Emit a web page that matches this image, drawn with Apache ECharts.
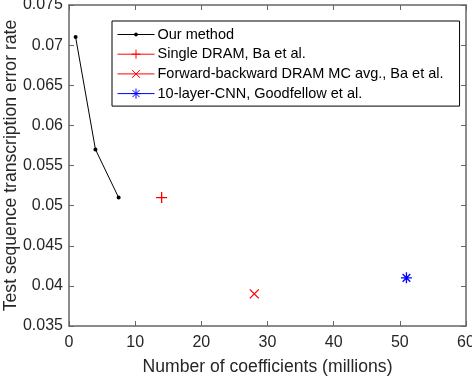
<!DOCTYPE html>
<html>
<head>
<meta charset="utf-8">
<script src="https://cdn.jsdelivr.net/npm/echarts@6/dist/echarts.min.js"></script>
<style>
  html, body { margin: 0; padding: 0; background: #fff; }
  #chart { width: 472px; height: 378px; }
</style>
</head>
<body>
<div id="chart"></div>
<script>
// data
var ourX = [1, 4, 7.5];
var ourY = [0.071, 0.057, 0.051];
var singleDram = [14, 0.051];
var fbDram = [28, 0.039];
var cnn = [51, 0.041];
var seriesNames = [
  'Our method',
  'Single DRAM, Ba et al.',
  'Forward-backward DRAM MC avg., Ba et al.',
  '10-layer-CNN, Goodfellow et al.'
];

var font = 'Liberation Sans, Arial, Helvetica, sans-serif';
var axisCol = '#666';
var textCol = '#262626';

// marker shapes (matlab style)
var plusPath = 'path://M5,0L5,10M0,5L10,5';
var crossPath = 'path://M0,0L10,10M10,0L0,10';
var starPath = 'path://M5,0L5,10M0,5L10,5M1.5,1.5L8.5,8.5M8.5,1.5L1.5,8.5';

// legend icons: line sample + marker, box 37x10
var ext = 'M0,0M37,10M0,5L37,5';
var dotIcon = 'path://' + ext + 'M17,5A1.5,1.5,0,1,1,20,5A1.5,1.5,0,1,1,17,5Z';
var plusIcon = 'path://' + ext + 'M18.5,0.5L18.5,9.5M14,5L23,5';
var crossIcon = 'path://' + ext + 'M14.5,1L22.5,9M22.5,1L14.5,9';
var starIcon = 'path://' + ext + 'M18.5,0L18.5,10M13.5,5L23.5,5M15,1.5L22,8.5M22,1.5L15,8.5';

var chart = echarts.init(document.getElementById('chart'));

function baseAxis(extra) {
  var a = {
    axisLine: { show: true, onZero: false, lineStyle: { color: axisCol, width: 1.5 } },
    axisTick: { show: true, inside: true, length: 5, lineStyle: { color: axisCol, width: 1 } },
    splitLine: { show: false },
    axisLabel: { show: false }
  };
  for (var k in extra) a[k] = extra[k];
  return a;
}

function legendItem(name, icon, col) {
  return { name: name, icon: icon, itemStyle: { color: col, borderColor: col, borderWidth: 1 } };
}

var option = {
  animation: false,
  backgroundColor: '#fff',
  grid: { left: 69, right: 6, top: 5, bottom: 52, containLabel: false, outerBoundsMode: 'none' },
  xAxis: [
    baseAxis({
      type: 'value', min: 0, max: 60, interval: 10, position: 'bottom',
      name: 'Number of coefficients (millions)', nameLocation: 'middle', nameGap: 32,
      nameMoveOverlap: false,
      nameTextStyle: { color: textCol, fontSize: 17.6, fontFamily: font },
      axisLabel: { show: true, color: textCol, fontSize: 16, fontFamily: font, margin: 9 }
    }),
    baseAxis({ type: 'value', min: 0, max: 60, interval: 10, position: 'top' })
  ],
  yAxis: [
    baseAxis({
      type: 'value', min: 0.035, max: 0.075, interval: 0.005, position: 'left',
      name: 'Test sequence transcription error rate', nameLocation: 'middle', nameGap: 49,
      nameMoveOverlap: false,
      nameTextStyle: { color: textCol, fontSize: 17.6, fontFamily: font },
      axisLabel: { show: true, color: textCol, fontSize: 16, fontFamily: font, margin: 6,
        formatter: function (v) { return String(+v.toFixed(3)); } }
    }),
    baseAxis({ type: 'value', min: 0.035, max: 0.075, interval: 0.005, position: 'right' })
  ],
  legend: {
    orient: 'vertical',
    left: 112, top: 21,
    padding: [6, 16, 5, 5],
    itemWidth: 37, itemHeight: 10, itemGap: 4.7,
    borderColor: '#000', borderWidth: 1,
    backgroundColor: '#fff',
    textStyle: { color: '#000', fontSize: 14.5, lineHeight: 14, fontFamily: font, padding: [0, 0, 0, -2] },
    data: [
      legendItem(seriesNames[0], dotIcon, '#000'),
      legendItem(seriesNames[1], plusIcon, '#ff0000'),
      legendItem(seriesNames[2], crossIcon, '#ff0000'),
      legendItem(seriesNames[3], starIcon, '#0000ff')
    ]
  },
  series: [
    {
      name: seriesNames[0], type: 'line',
      data: ourX.map(function (x, i) { return [x, ourY[i]]; }),
      symbol: 'circle', symbolSize: 4,
      lineStyle: { color: '#000', width: 1 },
      itemStyle: { color: '#000' }
    },
    {
      name: seriesNames[1], type: 'line', data: [singleDram],
      symbol: plusPath, symbolSize: 11,
      lineStyle: { color: '#ff0000', width: 1 },
      itemStyle: { color: '#ff0000', borderColor: '#ff0000', borderWidth: 1.3 }
    },
    {
      name: seriesNames[2], type: 'line', data: [fbDram],
      symbol: crossPath, symbolSize: 9,
      lineStyle: { color: '#ff0000', width: 1 },
      itemStyle: { color: '#ff0000', borderColor: '#ff0000', borderWidth: 1.3 }
    },
    {
      name: seriesNames[3], type: 'line', data: [cnn],
      symbol: starPath, symbolSize: 11,
      lineStyle: { color: '#0000ff', width: 1 },
      itemStyle: { color: '#0000ff', borderColor: '#0000ff', borderWidth: 1.3 }
    }
  ]
};
chart.setOption(option);
</script>
</body>
</html>
